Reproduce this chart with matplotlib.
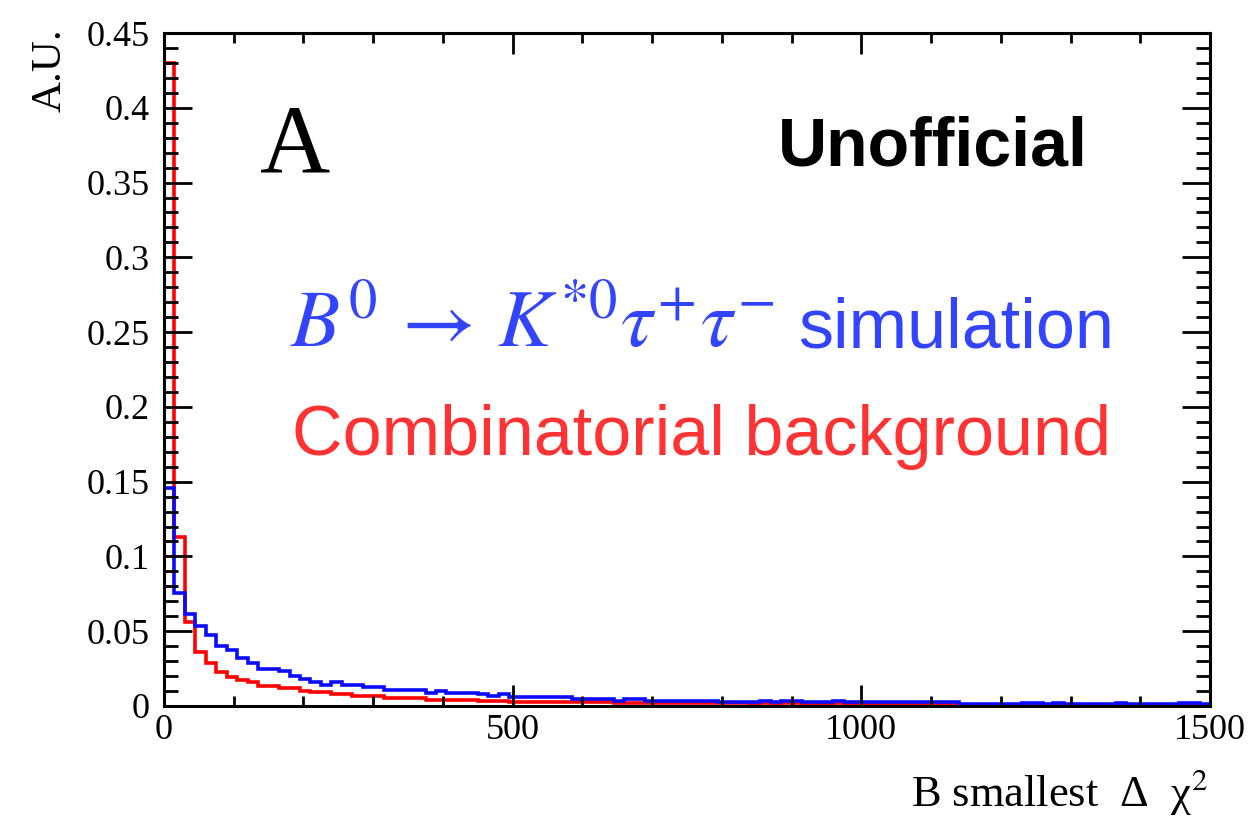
import matplotlib
matplotlib.use("Agg")
import matplotlib.pyplot as plt
import numpy as np
from matplotlib.ticker import MultipleLocator

plt.rcParams['mathtext.fontset'] = 'stix'

# 100 bins of width 15 from 0 to 1500
edges = np.arange(0, 1501, 15)

bkg = [0.430, 0.113, 0.056, 0.036, 0.029, 0.023, 0.0196, 0.0174, 0.0159, 0.0136,
       0.0136, 0.0118, 0.0118, 0.0102, 0.0092, 0.0092, 0.0080, 0.0080, 0.0067, 0.0067,
       0.0067, 0.0056, 0.0056, 0.0056, 0.0056, 0.0040, 0.0040, 0.0040, 0.0040, 0.0040,
       0.0036, 0.0036, 0.0036, 0.0029, 0.0029, 0.0029, 0.0029, 0.0029, 0.0029, 0.0025,
       0.0025, 0.0025, 0.0025, 0.0022, 0.0022, 0.0022, 0.0018, 0.0018, 0.0018, 0.0018,
       0.0018, 0.0018, 0.0018, 0.0018, 0.0018, 0.0018, 0.0016, 0.0018, 0.0016, 0.0018,
       0.0018, 0.0016, 0.0016, 0.0016, 0.0018, 0.0016, 0.0016, 0.0016, 0.0015, 0.0016,
       0.0015, 0.0016, 0.0015, 0.0015, 0.0016, 0.0015, 0.0010, 0.0010, 0.0010, 0.0010,
       0.0010, 0.0010, 0.0012, 0.0010, 0.0010, 0.0010, 0.0010, 0.0009, 0.0010, 0.0010,
       0.0010, 0.0010, 0.0009, 0.0010, 0.0010, 0.0009, 0.0010, 0.0010, 0.0010, 0.0009]

sig = [0.146, 0.0754, 0.0614, 0.0538, 0.0475, 0.0404, 0.0375, 0.0324, 0.0290, 0.0248,
       0.0248, 0.0234, 0.0203, 0.0179, 0.0160, 0.0143, 0.0159, 0.0143, 0.0143, 0.0125,
       0.0125, 0.0107, 0.0107, 0.0107, 0.0107, 0.0085, 0.0100, 0.0085, 0.0085, 0.0085,
       0.0080, 0.0070, 0.0080, 0.0058, 0.0058, 0.0058, 0.0058, 0.0058, 0.0058, 0.0045,
       0.0045, 0.0045, 0.0045, 0.0033, 0.0045, 0.0045, 0.0033, 0.0033, 0.0033, 0.0033,
       0.0033, 0.0033, 0.0033, 0.0029, 0.0029, 0.0029, 0.0029, 0.0036, 0.0029, 0.0036,
       0.0036, 0.0029, 0.0029, 0.0029, 0.0036, 0.0025, 0.0025, 0.0025, 0.0025, 0.0025,
       0.0025, 0.0025, 0.0025, 0.0025, 0.0025, 0.0025, 0.0011, 0.0011, 0.0011, 0.0011,
       0.0011, 0.0011, 0.0020, 0.0020, 0.0011, 0.0020, 0.0011, 0.0011, 0.0011, 0.0011,
       0.0011, 0.0020, 0.0011, 0.0011, 0.0011, 0.0011, 0.0011, 0.0020, 0.0020, 0.0011]

W, H = 1250, 816
fig = plt.figure(figsize=(W / 100, H / 100), dpi=100)
ax = fig.add_axes([164 / W, 1 - 706 / H, (1210 - 164) / W, (706 - 33) / H])

ax.stairs(bkg, edges, baseline=0, color='#ff0000', lw=2.6)
ax.stairs(sig, edges, baseline=0, color='#0a0aff', lw=2.6)

ax.set_xlim(0, 1500)
ax.set_ylim(0, 0.45)

ax.xaxis.set_major_locator(MultipleLocator(500))
ax.xaxis.set_minor_locator(MultipleLocator(100))
ax.yaxis.set_major_locator(MultipleLocator(0.05))
ax.yaxis.set_minor_locator(MultipleLocator(0.01))
ax.yaxis.set_major_formatter(plt.FuncFormatter(lambda v, p: ('%.2f' % v).rstrip('0').rstrip('.') if v else '0'))

for s in ax.spines.values():
    s.set_linewidth(2.2)
ax.tick_params(which='both', direction='in', top=True, right=True, width=2.0,
               labelsize=26, labelfontfamily='Liberation Serif')
ax.tick_params(axis='x', which='major', length=15, pad=6)
ax.tick_params(axis='x', which='minor', length=7.5)
ax.tick_params(axis='y', which='major', length=20, pad=10)
ax.tick_params(axis='y', which='minor', length=10)

fig.text(50 / W, 1 - 28 / H, 'A.U.', rotation=90, ha='center', va='top',
         fontsize=31, family='Liberation Serif')
fig.text(1208 / W, 1 - 806 / H, 'B smallest  Δ  χ$^{2}$', ha='right', va='baseline',
         fontsize=32, family='Liberation Serif')

fig.text(260 / W, 1 - 171 / H, 'A', ha='left', va='baseline', fontsize=70,
         family='Liberation Serif')
fig.text(778 / W, 1 - 165 / H, 'Unofficial', ha='left', va='baseline', fontsize=49,
         family='Liberation Sans', weight='bold')
fig.text(290 / W, 1 - 347 / H, r'$B^0 \,\rightarrow\, K^{*0}\tau^{+}\tau^{-}$', ha='left',
         va='baseline', fontsize=58, color='#3344ff')
fig.text(1114 / W, 1 - 347 / H, 'simulation', ha='right', va='baseline', fontsize=50.5,
         family='Liberation Sans', color='#3344ff')
fig.text(292 / W, 1 - 455 / H, 'Combinatorial background', ha='left', va='baseline',
         fontsize=50.5, family='Liberation Sans', color='#ff3333')

fig.savefig('out.png', dpi=100)
